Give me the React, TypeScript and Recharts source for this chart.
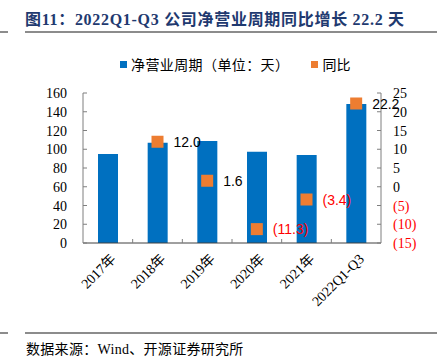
import React from 'react';
import { ComposedChart, Bar, Line, XAxis, YAxis, LabelList } from 'recharts';

const categories = ['2017年', '2018年', '2019年', '2020年', '2021年', '2022Q1-Q3'];
const netCycle = [95, 107, 108.8, 97.4, 94, 148.3];
const yoy: (number | null)[] = [null, 12.0, 1.6, -11.3, -3.4, 22.2];
const leftTicks = [0, 20, 40, 60, 80, 100, 120, 140, 160];
const rightTicks = [-15, -10, -5, 0, 5, 10, 15, 20, 25];

const data = categories.map((name, i) => ({ name, netCycle: netCycle[i], yoy: yoy[i] }));

const SERIF = '"Liberation Serif", "Times New Roman", "Noto Sans CJK SC", serif';
const CJK = '"Liberation Serif", "Noto Sans CJK SC", serif';
const SANS = '"Liberation Sans", Arial, sans-serif';
const AXIS = '#7f7f7f';
const BAND = 298 / 6;

const fmtNeg = (v: number) => (v < 0 ? `(${Math.abs(v)})` : `${v}`);

const LeftTick = (props: any) => {
  const { x, y, payload } = props;
  return (
    <g>
      <line x1={x} x2={x + 4} y1={y} y2={y} stroke={AXIS} strokeWidth={1} />
      <text x={x - 16} y={y} dy={5} textAnchor="end" fontSize={14} fontFamily={SERIF} fill="#000">
        {payload.value}
      </text>
    </g>
  );
};

const RightTick = (props: any) => {
  const { x, y, payload } = props;
  const v = payload.value as number;
  return (
    <g>
      <line x1={x - 4} x2={x} y1={y} y2={y} stroke={AXIS} strokeWidth={1} />
      <text x={x + 12} y={y} dy={5} textAnchor="start" fontSize={14} fontFamily={SERIF} fill={v < 0 ? '#ff0000' : '#000'}>
        {fmtNeg(v)}
      </text>
    </g>
  );
};

const XTick = (props: any) => {
  const { x, y, payload, index } = props;
  const bx = x - BAND / 2;
  return (
    <g>
      {index > 0 && <line x1={bx} x2={bx} y1={y} y2={y - 4} stroke={AXIS} strokeWidth={1} />}
      <text
        x={x + 2}
        y={y + 10}
        textAnchor="end"
        dominantBaseline="hanging"
        transform={`rotate(-45, ${x + 2}, ${y + 10})`}
        fontSize={14}
        fontFamily={SERIF}
        fill="#000"
      >
        {payload.value}
      </text>
    </g>
  );
};

const SquareDot = (props: any) => {
  const { cx, cy, value, index } = props;
  if (value == null || cy == null) return <g key={`d${index}`} />;
  return <rect key={`d${index}`} x={cx - 6} y={cy - 6} width={12} height={12} fill="#ED7D31" />;
};

const YoyLabel = (props: any) => {
  const { x, y, value } = props;
  if (value == null) return null;
  const v = value as number;
  const txt = v < 0 ? `(${Math.abs(v).toFixed(1)})` : v.toFixed(1);
  return (
    <text x={x + 16} y={y} dy={5} fontSize={14} fontFamily={SANS} fill={v < 0 ? '#ff0000' : '#000'}>
      {txt}
    </text>
  );
};

export default function App() {
  return (
    <div style={{ position: 'absolute', left: 0, top: 0, width: 440, height: 364, background: '#fff', overflow: 'hidden' }}>
      <div
        style={{
          position: 'absolute',
          left: 25,
          top: 6,
          fontFamily: CJK,
          fontWeight: 'bold',
          fontSize: 16,
          color: '#1f3a70',
          whiteSpace: 'nowrap',
          letterSpacing: 0.7,
        }}
      >
        图11：2022Q1-Q3 公司净营业周期同比增长 22.2 天
      </div>
      <div style={{ position: 'absolute', left: 0, top: 31, width: 8, height: 1.5, background: '#8c8c8c' }} />
      <div style={{ position: 'absolute', left: 25, top: 31, width: 412, height: 1.5, background: '#8c8c8c' }} />

      <div style={{ position: 'absolute', left: 120, top: 54, display: 'flex', alignItems: 'center', fontFamily: CJK, fontSize: 14, color: '#000', whiteSpace: 'nowrap' }}>
        <span style={{ display: 'inline-block', width: 7, height: 7, background: '#0070C0', marginRight: 4 }} />
        <span style={{ letterSpacing: 0.4 }}>净营业周期（单位：天）</span>
        <span style={{ display: 'inline-block', width: 7, height: 7, background: '#ED7D31', marginLeft: 22, marginRight: 4 }} />
        <span>同比</span>
      </div>

      <div style={{ position: 'absolute', left: 0, top: 0 }}>
        <ComposedChart width={440} height={364} data={data} margin={{ top: 93, right: 0, bottom: 21, left: 0 }}>
          <XAxis
            dataKey="name"
            height={100}
            axisLine={{ stroke: '#404040' }}
            tickLine={false}
            tickSize={0}
            tickMargin={0}
            interval={0}
            tick={<XTick />}
          />
          <YAxis
            yAxisId="left"
            orientation="left"
            width={83}
            domain={[0, 160]}
            ticks={leftTicks}
            axisLine={{ stroke: AXIS }}
            tickLine={false}
            tickSize={0}
            tickMargin={0}
            tick={<LeftTick />}
            interval={0}
          />
          <YAxis
            yAxisId="right"
            orientation="right"
            width={59}
            domain={[-15, 25]}
            ticks={rightTicks}
            axisLine={{ stroke: AXIS }}
            tickLine={false}
            tickSize={0}
            tickMargin={0}
            tick={<RightTick />}
            interval={0}
          />
          <Bar yAxisId="left" dataKey="netCycle" fill="#0070C0" barSize={20} isAnimationActive={false} />
          <Line
            yAxisId="right"
            dataKey="yoy"
            stroke="none"
            strokeWidth={0}
            dot={<SquareDot />}
            activeDot={false}
            isAnimationActive={false}
            connectNulls={false}
          >
            <LabelList dataKey="yoy" content={<YoyLabel />} />
          </Line>
        </ComposedChart>
      </div>

      <div style={{ position: 'absolute', left: 0, top: 332, width: 8, height: 1.5, background: '#8c8c8c' }} />
      <div style={{ position: 'absolute', left: 25, top: 332, width: 412, height: 1.5, background: '#8c8c8c' }} />
      <div style={{ position: 'absolute', left: 26, top: 338, fontFamily: CJK, fontSize: 14, color: '#000', whiteSpace: 'nowrap', letterSpacing: 0.3 }}>
        数据来源：Wind、开源证券研究所
      </div>
    </div>
  );
}
